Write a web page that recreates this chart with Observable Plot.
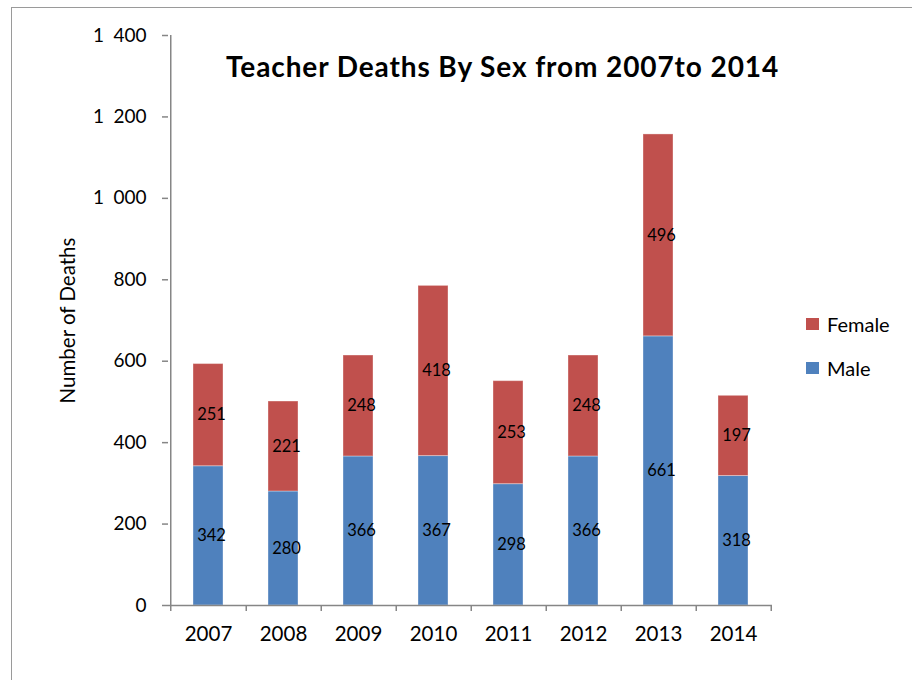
<!DOCTYPE html>
<html>
<head>
<meta charset="utf-8">
<script src="https://cdn.jsdelivr.net/npm/d3@7"></script>
<script src="https://cdn.jsdelivr.net/npm/@observablehq/plot@0.6"></script>
<style>
  html, body { margin: 0; padding: 0; background: #fff; }
  #wrap { position: relative; width: 912px; height: 680px; overflow: hidden; font-family: Lato, "Open Sans", sans-serif; }
  #border { position: absolute; left: 11px; top: 7px; width: 1000px; height: 800px; border: 1.5px solid #9a9a9a; box-sizing: border-box; }
  #chart { position: absolute; left: 0; top: 0; }
  .leg { position: absolute; left: 806px; display: flex; align-items: center; font-size: 20px; color: #000; }
  .leg .sw { width: 13px; height: 12px; margin-right: 8px; }
</style>
</head>
<body>
<div id="wrap">
  <div id="border"></div>
  <div id="chart"></div>
</div>
<script>
const years = ["2007", "2008", "2009", "2010", "2011", "2012", "2013", "2014"];
const male = [342, 280, 366, 367, 298, 366, 661, 318];
const female = [251, 221, 248, 418, 253, 248, 496, 197];
const seriesNames = ["Male", "Female"];
const seriesColors = ["#4F81BD", "#C0504D"];
const yTicks = [0, 200, 400, 600, 800, 1000, 1200, 1400];
const titleText = "Teacher Deaths By Sex from 2007to 2014";
const yLabel = "Number of Deaths";

const data = [];
years.forEach((y, i) => data.push({year: y, sex: "Male", value: male[i]}));
years.forEach((y, i) => data.push({year: y, sex: "Female", value: female[i]}));

const fmtSpace = d => d >= 1000 ? String(Math.floor(d / 1000)) + "\u2002" + String(d % 1000).padStart(3, "0") : String(d);

const W = 912, H = 680;
const mL = 168, mR = 140, mT = 35, mB = 75;
const step = (W - mL - mR) / years.length;
const axisGray = "#868686";

const chart = Plot.plot({
  width: W,
  height: H,
  marginLeft: mL,
  marginRight: mR,
  marginTop: mT,
  marginBottom: mB,
  style: {fontFamily: "Lato, 'Open Sans', sans-serif", background: "transparent", color: "#000"},
  x: {domain: years, paddingInner: 0.6, paddingOuter: 0.3, label: null},
  y: {domain: [0, 1400], label: null},
  color: {domain: seriesNames, range: seriesColors},
  marks: [
    Plot.barY(data, Plot.stackY({x: "year", y: "value", z: "sex", fill: "sex", order: seriesNames, stroke: "#ffffff", strokeOpacity: 0.35, strokeWidth: 1})),
    Plot.text(data, Plot.stackY({x: "year", y: "value", z: "sex", order: seriesNames, text: d => String(d.value), fontSize: 16.5, fill: "#000", dx: 3})),
    Plot.ruleY([0], {stroke: axisGray, strokeWidth: 1.5}),
    Plot.ruleX([years[0]], {x: d => d, dx: -step / 2, y1: -15, y2: 1400, stroke: axisGray, strokeWidth: 1.5}),
    Plot.ruleX(years, {x: d => d, dx: step / 2, y1: -15, y2: 0, stroke: axisGray, strokeWidth: 1.5}),
    Plot.axisY({ticks: yTicks, tickSize: 6, tickPadding: 16, tickFormat: fmtSpace, fontSize: 19, stroke: axisGray, fill: "#000", strokeWidth: 1.5, label: null}),
    Plot.axisX({tickSize: 0, tickPadding: 21, fontSize: 20.5, fill: "#000", label: null}),
    Plot.text([titleText], {frameAnchor: "top", lineAnchor: "middle", dx: 32, dy: 33, fontSize: 28, fontWeight: "bold", fill: "#000", style: "letter-spacing:0.9px"}),
    Plot.text([yLabel], {frameAnchor: "left", textAnchor: "middle", lineAnchor: "middle", rotate: -90, dx: -100, fontSize: 20.5, fill: "#000"})
  ]
});
// letter spacing for title
chart.querySelectorAll("text").forEach(t => { if (t.textContent === titleText) t.setAttribute("letter-spacing", "0.9"); });
document.getElementById("chart").appendChild(chart);

const legendTops = {"Female": 324, "Male": 368};
["Female", "Male"].forEach(name => {
  const idx = seriesNames.indexOf(name);
  const d = document.createElement("div");
  d.className = "leg";
  d.style.top = (legendTops[name] - 12) + "px";
  d.innerHTML = `<div class="sw" style="background:${seriesColors[idx]}"></div><span>${name}</span>`;
  document.getElementById("wrap").appendChild(d);
});
</script>
</body>
</html>
